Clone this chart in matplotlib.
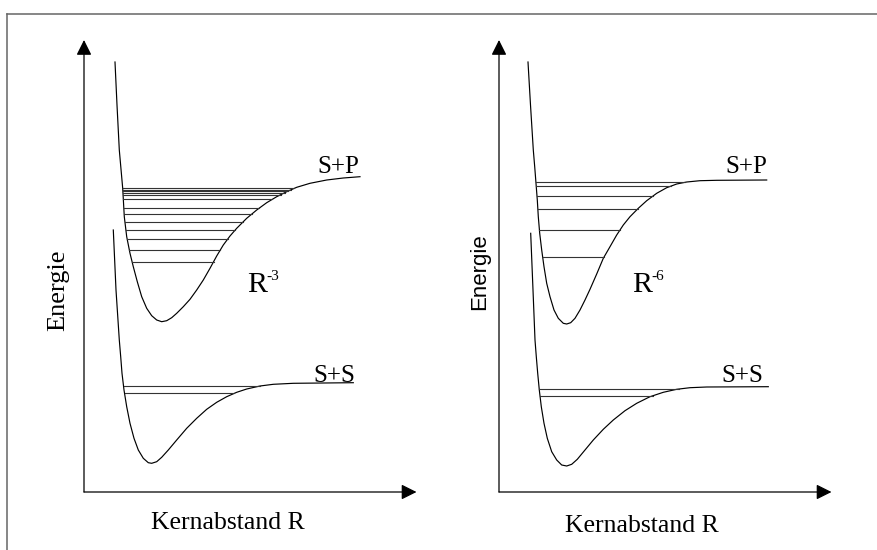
"""
Schematic potential curves for S+S and S+P asymptotes, with bound
vibrational levels, for long-range R^-3 and R^-6 interactions.
"""

import numpy as np
import matplotlib.pyplot as plt
from matplotlib.lines import Line2D

SERIF = "Liberation Serif"
SANS = "Liberation Sans"

# Panel units: R measured from the energy axis, E measured up from the R axis.

# R^-3 panel, S+P curve
r3_sp_r = [31, 33, 35.3, 38.7, 40.3, 42.7, 46, 49.3, 53.3, 57.7, 62.7, 67.7, 72.7,
           77.7, 82.7, 87.7, 92.7, 99.3, 106, 112.7, 119.3, 126, 132.7, 139.3, 146,
           152.7, 162.7, 172.7, 182.7, 192.7, 202.7, 212.7, 226, 242.7, 259.3, 276]
r3_sp_e = [430, 387, 342, 303.7, 275.3, 255.3, 238.7, 225.3, 210.3, 195.3, 183.7,
           176.3, 172, 170.3, 171.3, 174.3, 178.7, 185.3, 192.7, 202, 212, 223.7, 236,
           247, 256, 263.7, 273.7, 282, 289.3, 295.3, 300.3, 304.7, 308.7, 312, 314,
           315.3]
r3_sp_levels = [303.7, 302.3, 301, 299.5, 297.5, 292.7, 283.7, 277.7, 270.3, 262,
                252.7, 242, 230.3]

# R^-3 panel, S+S curve
r3_ss_r = [29.3, 32, 35.3, 36.7, 38, 40, 42.7, 46, 50, 54.3, 59.3, 64.3, 67.7, 72.7,
           77.7, 84.3, 92.7, 102.7, 112.7, 122.7, 132.7, 142.7, 152.7, 162.7, 176,
           189.3, 209.3, 269.3]
r3_ss_e = [262, 202, 152, 135.3, 118.7, 102, 85.3, 68.7, 53.7, 42, 33.7, 29.3, 28.7,
           30.3, 34.7, 42, 52, 63.7, 73.7, 82.7, 89.7, 95.3, 99.7, 103, 106, 107.7,
           108.7, 109.3]
r3_ss_levels = [106, 98.7]

# R^-6 panel, S+P curve
r6_sp_r = [29, 31.5, 34.3, 35.7, 37, 38.3, 39.3, 40.7, 42.7, 45, 47.7, 51, 55, 59.3,
           64.3, 67.7, 71.7, 76, 81, 86, 91, 97.7, 104.3, 111, 117.7, 124.3, 131,
           139.3, 147.7, 157.7, 167.7, 177.7, 187.7, 201, 217.7, 267.7]
r6_sp_e = [430, 387, 342, 325.3, 308.7, 292, 275.3, 258.7, 242, 225.3, 208.7, 195.3,
           182, 173.7, 168.7, 168, 169.3, 173.7, 182, 192, 202.7, 218, 233.7, 245.3,
           257, 267, 275.3, 283.7, 291.3, 298.7, 304.3, 308, 310, 311.3, 311.7, 312]
r6_sp_levels = [309.7, 306, 296.3, 283, 262, 235.3]

# R^-6 panel, S+S curve
r6_ss_r = [31.7, 34, 36, 37.3, 38.7, 40.3, 42.3, 45, 48.3, 52.7, 57.7, 62.7, 67.7,
           72.7, 78.3, 86, 94.3, 104.3, 114.3, 126, 137.7, 151, 164.3, 177.7, 191,
           207.7, 269.3]
r6_ss_e = [258.7, 202, 152, 135.3, 118.7, 102, 85.3, 68.7, 53.7, 40.3, 32, 27, 26,
           27.7, 32.7, 42, 52, 62.7, 72, 81.3, 88.7, 95.3, 99.7, 102.7, 104.3, 105,
           105.3]
r6_ss_levels = [103, 96.3]


def _level_segment(r, e, level):
    """Return the inner and outer turning points of a level on a curve"""
    r = np.asarray(r, dtype=float)
    e = np.asarray(e, dtype=float)
    i_min = int(np.argmin(e))
    r_in = np.interp(level, e[:i_min + 1][::-1], r[:i_min + 1][::-1])
    r_out = np.interp(level, e[i_min:], r[i_min:])
    return r_in, r_out


def _curve(ax, r, e, levels):
    ax.plot(r, e, color="black", lw=0.85, solid_joinstyle="round", clip_on=False)
    for lev in levels:
        r_in, r_out = _level_segment(r, e, lev)
        ax.plot([r_in, r_out], [lev, lev], color="#333333", lw=0.8, clip_on=False)


def _arrow_axes(ax, r_tip, e_tip):
    style = dict(arrowstyle="-|>", color="black", lw=0.9, mutation_scale=23,
                 shrinkA=0, shrinkB=0)
    ax.annotate("", xy=(0, e_tip), xytext=(0, 0), arrowprops=style)
    ax.annotate("", xy=(r_tip, 0), xytext=(0, 0), arrowprops=style)


def panel(ax, sp, ss, power, sp_label_r, ss_label_r, power_r, ylabel_kw, xlabel_pos):
    _curve(ax, *sp)
    _curve(ax, *ss)
    _arrow_axes(ax, 332.5, 452)

    ax.text(sp_label_r, 318.7, "S+P", family=SERIF, fontsize=18, va="baseline")
    ax.text(ss_label_r, 110.3, "S+S", family=SERIF, fontsize=18, va="baseline")
    ax.text(power_r, 200.3, "R", family=SERIF, fontsize=21.5, va="baseline")
    ax.text(power_r + 20, 212, power, family=SERIF, fontsize=11, va="baseline")

    ax.text(**ylabel_kw)
    ax.text(*xlabel_pos, "Kernabstand R", family=SERIF, fontsize=18.5,
            ha="center", va="center")

    ax.set_ylim(0, 462)
    ax.axis("off")


fig = plt.figure(figsize=(8.77, 5.50), dpi=100)

# Outer frame, open on the right and bottom
fig.add_artist(Line2D([7 / 877, 1.0], [1 - 14 / 550, 1 - 14 / 550],
                      color="#666666", lw=1.1, transform=fig.transFigure))
fig.add_artist(Line2D([7 / 877, 7 / 877], [0.0, 1 - 14 / 550],
                      color="#666666", lw=1.1, transform=fig.transFigure))

ax_left = fig.add_axes([84 / 877, 58 / 550, 356 / 877, 462 / 550])
ax_left.set_xlim(0, 356)
panel(ax_left,
      (r3_sp_r, r3_sp_e, r3_sp_levels),
      (r3_ss_r, r3_ss_e, r3_ss_levels),
      "-3", 233, 229, 162.7,
      dict(x=-26, y=202, s="Energie", family=SERIF, fontsize=19, rotation=90,
           ha="center", va="center"),
      (144, -31))

ax_right = fig.add_axes([499 / 877, 58 / 550, 378 / 877, 462 / 550])
ax_right.set_xlim(0, 378)
panel(ax_right,
      (r6_sp_r, r6_sp_e, r6_sp_levels),
      (r6_ss_r, r6_ss_e, r6_ss_levels),
      "-6", 226, 222.7, 132.7,
      dict(x=-19, y=220, s="Energie", family=SANS, fontsize=16, rotation=90,
           ha="center", va="center"),
      (143, -34))

fig.savefig("out.png", dpi=100)
